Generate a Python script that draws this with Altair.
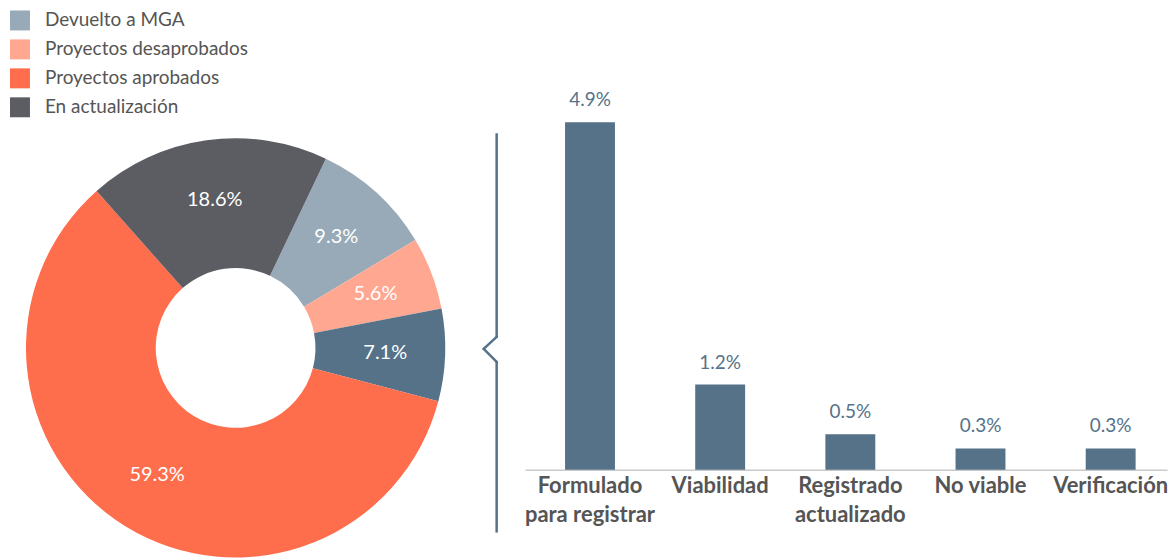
import math
import altair as alt
import pandas as pd

# ---- data ----
seg_names = ["Devuelto a MGA", "Proyectos desaprobados", "En trámite",
             "Proyectos aprobados", "En actualización"]
seg_values = [9.3, 5.6, 7.1, 59.3, 18.6]
seg_labels = ["9.3%", "5.6%", "7.1%", "59.3%", "18.6%"]
seg_colors = ["#98aab8", "#ffa791", "#557289", "#ff6e4c", "#5c5d63"]
legend_items = ["Devuelto a MGA", "Proyectos desaprobados",
                "Proyectos aprobados", "En actualización"]

bar_cats = ["Formulado para registrar", "Viabilidad", "Registrado actualizado",
            "No viable", "Verificación"]
bar_values = [4.9, 1.2, 0.5, 0.3, 0.3]
bar_labels = ["4.9%", "1.2%", "0.5%", "0.3%", "0.3%"]

donut_df = pd.DataFrame({"name": seg_names, "value": seg_values,
                         "label": seg_labels, "idx": list(range(len(seg_names)))})
bar_df = pd.DataFrame({"cat": bar_cats, "value": bar_values, "label": bar_labels})

FONT = "Lato"
SLATE = "#557289"
off = 0.445
theta = alt.Theta("value:Q", stack=True,
                  scale=alt.Scale(range=[off, off + 2 * math.pi]))
cx, cy = 228, 340

arcs = alt.Chart(donut_df).mark_arc(innerRadius=80, outerRadius=210).encode(
    theta=theta,
    order=alt.Order("idx:Q"),
    x=alt.value(cx), y=alt.value(cy),
    color=alt.Color("name:N",
                    scale=alt.Scale(domain=seg_names, range=seg_colors),
                    legend=alt.Legend(values=legend_items, title=None, orient="none",
                                      legendX=2, legendY=2, symbolType="square",
                                      symbolSize=400, symbolStrokeWidth=0,
                                      labelFont=FONT, labelFontSize=19,
                                      labelColor="#555555", rowPadding=9,
                                      labelOffset=15, labelLimit=400)),
)
arc_text = alt.Chart(donut_df).mark_text(radius=150, fontSize=20, font=FONT,
                                         color="white").encode(
    theta=theta,
    order=alt.Order("idx:Q"),
    x=alt.value(cx), y=alt.value(cy),
    text="label:N",
)

one = pd.DataFrame({"k": [0]})
bx, ptx = 489.5, 476.5
rules = [
    alt.Chart(one).mark_rule(color=SLATE, strokeWidth=2.5).encode(
        x=alt.value(bx), y=alt.value(125), y2=alt.value(330)),
    alt.Chart(one).mark_rule(color=SLATE, strokeWidth=2.5, strokeCap="round").encode(
        x=alt.value(bx), x2=alt.value(ptx), y=alt.value(329), y2=alt.value(341)),
    alt.Chart(one).mark_rule(color=SLATE, strokeWidth=2.5, strokeCap="round").encode(
        x=alt.value(ptx), x2=alt.value(bx), y=alt.value(341), y2=alt.value(354)),
    alt.Chart(one).mark_rule(color=SLATE, strokeWidth=2.5).encode(
        x=alt.value(bx), y=alt.value(353), y2=alt.value(525)),
]

left = alt.layer(arcs, arc_text, *rules).properties(width=517, height=462)

label_expr = ("datum.label == 'Formulado para registrar' ? ['Formulado', 'para registrar'] : "
              "datum.label == 'Registrado actualizado' ? ['Registrado', 'actualizado'] : datum.label")

xenc = alt.X("cat:N", sort=bar_cats,
             scale=alt.Scale(paddingInner=0.6166, paddingOuter=0.274, align=0.56),
             axis=alt.Axis(title=None, labelAngle=0, ticks=False, domainColor="#c9c9c9",
                           domainWidth=1.5, labelFont=FONT, labelFontWeight="bold",
                           labelFontSize=22, labelColor="#555555", labelPadding=6,
                           labelLineHeight=29, labelOverlap=False, labelExpr=label_expr,
                           labelLimit=300))
yenc = alt.Y("value:Q", scale=alt.Scale(domain=[0, 6.505], nice=False), axis=None)

bars = alt.Chart(bar_df).mark_bar(color=SLATE).encode(x=xenc, y=yenc)
bar_text = alt.Chart(bar_df).mark_text(baseline="alphabetic", dy=-16, fontSize=19,
                                       font=FONT, color=SLATE).encode(
    x=xenc, y=yenc, text="label:N")

right = alt.layer(bars, bar_text).properties(width=643, height=462)

chart = (alt.hconcat(left, right, spacing=0)
         .properties(padding=0)
         .configure(font=FONT)
         .configure_view(strokeWidth=0, stroke="transparent"))

chart.save("out.html", embed_options={"renderer": "svg", "actions": False})
